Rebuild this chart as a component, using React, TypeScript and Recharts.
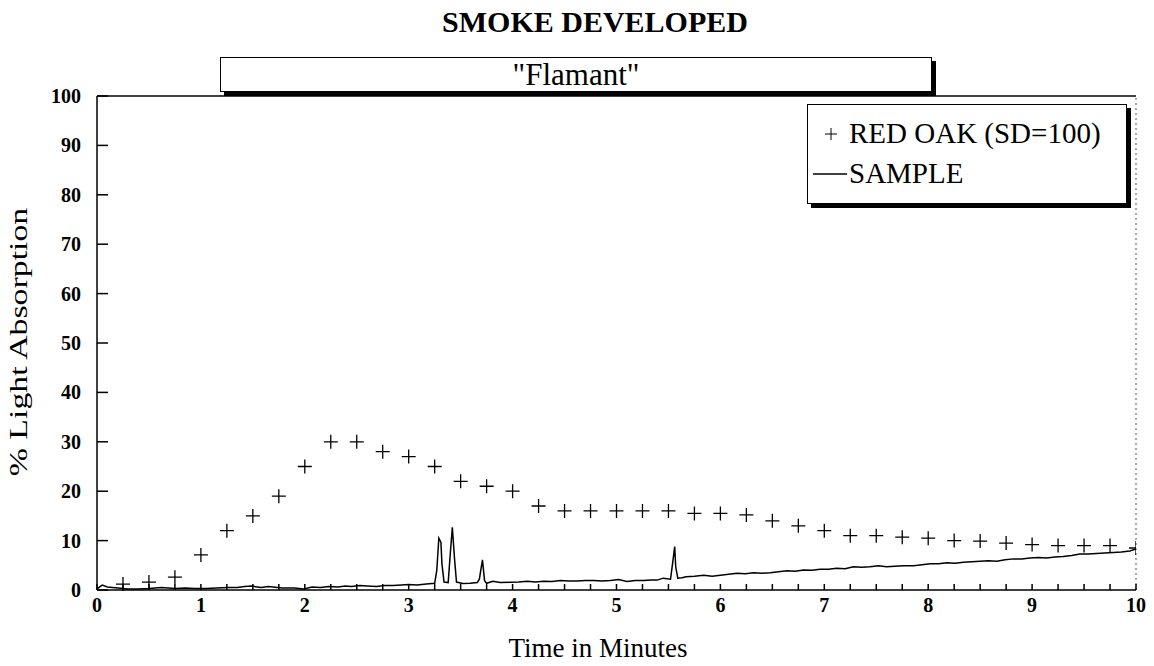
import React from 'react'
import {
  ComposedChart,
  Line,
  Scatter,
  XAxis,
  YAxis,
  ReferenceLine,
  Legend,
} from 'recharts'

// RED OAK reference points (every quarter minute)
const redOakTime = [
  0.25, 0.5, 0.75, 1, 1.25, 1.5, 1.75, 2, 2.25, 2.5, 2.75, 3, 3.25, 3.5, 3.75, 4,
  4.25, 4.5, 4.75, 5, 5.25, 5.5, 5.75, 6, 6.25, 6.5, 6.75, 7, 7.25, 7.5, 7.75, 8,
  8.25, 8.5, 8.75, 9, 9.25, 9.5, 9.75, 10,
]
const redOakValue = [
  1.2, 1.6, 2.6, 7.1, 12, 15, 19, 25, 30, 30, 28, 27, 25, 22, 21, 20,
  17, 16, 16, 16, 16, 16, 15.5, 15.5, 15.2, 14, 13, 12, 11, 11, 10.7, 10.5,
  10, 9.9, 9.5, 9.2, 9, 9, 9, 8.5,
]

// SAMPLE trace
const sampleTime = [
  0, 0.05, 0.1, 0.2, 0.3, 0.4, 0.5, 0.62, 0.75, 0.85, 0.94, 1.05, 1.15, 1.26, 1.35,
  1.42, 1.49, 1.58, 1.65, 1.78, 1.9, 1.99, 2.07, 2.15, 2.23, 2.32, 2.39, 2.45, 2.53,
  2.6, 2.69, 2.77, 2.85, 2.93, 3, 3.08, 3.17, 3.25, 3.27, 3.29, 3.31, 3.32, 3.34,
  3.38, 3.4, 3.42, 3.44, 3.46, 3.52, 3.59, 3.66, 3.68, 3.71, 3.73, 3.75, 3.81, 3.88,
  3.98, 4.06, 4.14, 4.22, 4.3, 4.38, 4.46, 4.54, 4.62, 4.7, 4.78, 4.86, 4.94, 5.02,
  5.1, 5.18, 5.26, 5.33, 5.39, 5.45, 5.52, 5.54, 5.56, 5.57, 5.59, 5.63, 5.67, 5.75,
  5.84, 5.92, 6, 6.08, 6.16, 6.24, 6.32, 6.4, 6.48, 6.56, 6.64, 6.72, 6.8, 6.88,
  6.96, 7.04, 7.12, 7.2, 7.28, 7.36, 7.44, 7.52, 7.6, 7.68, 7.76, 7.86, 7.94, 8.02,
  8.1, 8.18, 8.26, 8.34, 8.42, 8.5, 8.58, 8.66, 8.74, 8.82, 8.9, 8.98, 9.06, 9.14,
  9.22, 9.3, 9.38, 9.46, 9.54, 9.62, 9.7, 9.78, 9.86, 9.94, 10,
]
const sampleValue = [
  0.2, 1.0, 0.6, 0.4, 0.2, 0.2, 0.3, 0.5, 0.3, 0.4, 0.3, 0.3, 0.4, 0.5, 0.5,
  0.7, 0.8, 0.5, 0.7, 0.4, 0.4, 0.2, 0.6, 0.5, 0.7, 0.6, 0.8, 0.7, 0.9,
  0.8, 0.7, 0.9, 0.9, 1.0, 1.1, 1.0, 1.2, 1.35, 3.9, 10.5, 9.7, 5.3, 1.6,
  1.5, 7.3, 12.7, 6.6, 1.6, 1.3, 1.35, 1.5, 2.2, 6.1, 1.9, 1.35, 1.75, 1.5,
  1.55, 1.6, 1.75, 1.6, 1.75, 1.7, 1.9, 1.8, 1.8, 1.9, 1.9, 1.8, 1.9, 2.1,
  1.7, 1.9, 1.9, 2.0, 2.0, 2.4, 2.2, 5.4, 8.8, 4.7, 2.4, 2.5, 2.7, 2.8,
  3.0, 2.8, 3.0, 3.2, 3.4, 3.3, 3.5, 3.4, 3.5, 3.7, 3.9, 3.8, 4.05, 4.0,
  4.2, 4.2, 4.4, 4.3, 4.7, 4.6, 4.7, 4.9, 4.7, 4.8, 4.9, 4.9, 5.1, 5.3,
  5.3, 5.5, 5.4, 5.6, 5.7, 5.8, 5.9, 5.8, 6.1, 6.3, 6.3, 6.5, 6.6, 6.5,
  6.7, 6.8, 7.0, 7.3, 7.3, 7.4, 7.5, 7.6, 7.7, 7.9, 8.3,
]

const xTicks = [
  0, 0.25, 0.5, 0.75, 1, 1.25, 1.5, 1.75, 2, 2.25, 2.5, 2.75, 3, 3.25, 3.5, 3.75, 4,
  4.25, 4.5, 4.75, 5, 5.25, 5.5, 5.75, 6, 6.25, 6.5, 6.75, 7, 7.25, 7.5, 7.75, 8,
  8.25, 8.5, 8.75, 9, 9.25, 9.5, 9.75, 10,
]
const yTicks = [0, 10, 20, 30, 40, 50, 60, 70, 80, 90, 100]

const redOakData = redOakTime.map((t, i) => ({ t, v: redOakValue[i] }))
const sampleData = sampleTime.map((t, i) => ({ t, v: sampleValue[i] }))

const FONT = '"Liberation Serif", "Times New Roman", serif'

const PlusShape = (props: any) => {
  const { cx, cy } = props
  if (cx == null || cy == null) return null
  return (
    <path
      d={`M${cx - 7},${cy}H${cx + 7}M${cx},${cy - 7}V${cy + 7}`}
      stroke="#000"
      strokeWidth={1.3}
      fill="none"
    />
  )
}

// tick mark pointing into the plot + label only on whole minutes
const XTick = (props: any) => {
  const { x, y, payload } = props
  const whole = Number.isInteger(payload.value)
  return (
    <g>
      <rect x={x - 0.75} y={y - 6} width={1.5} height={6} fill="#000" />
      {whole && (
        <text x={x} y={y + 22} textAnchor="middle" fontFamily={FONT} fontWeight="bold" fontSize={20} fill="#000">
          {payload.value}
        </text>
      )}
    </g>
  )
}

const YTick = (props: any) => {
  const { x, y, payload } = props
  return (
    <g>
      <rect x={x} y={y - 0.75} width={11} height={1.5} fill="#000" />
      <text x={x - 16} y={y + 7} textAnchor="end" fontFamily={FONT} fontWeight="bold" fontSize={20} fill="#000">
        {payload.value}
      </text>
    </g>
  )
}

const renderLegend = () => (
  <div
    style={{
      width: 320,
      height: 100,
      boxSizing: 'border-box',
      border: '1px solid #000',
      boxShadow: '4px 4px 0 #000',
      background: '#fff',
      fontFamily: FONT,
      fontSize: 29,
      color: '#000',
      position: 'relative',
    }}
  >
    <svg width={40} height={100} style={{ position: 'absolute', left: 0, top: 0 }}>
      <path d="M17,29H29M23,23V35" stroke="#000" strokeWidth={1} />
      <line x1={5} y1={69} x2={39} y2={69} stroke="#000" strokeWidth={1.5} />
    </svg>
    <div style={{ position: 'absolute', left: 41, top: 11, whiteSpace: 'nowrap', lineHeight: '34px' }}>RED OAK (SD=100)</div>
    <div style={{ position: 'absolute', left: 41, top: 51, whiteSpace: 'nowrap', lineHeight: '34px' }}>SAMPLE</div>
  </div>
)

export default function App() {
  return (
    <div style={{ position: 'absolute', left: 0, top: 0, width: 1154, height: 666, background: '#fff', fontFamily: FONT }}>
      <div style={{ position: 'absolute', left: 395, top: 5, width: 400, textAlign: 'center', fontSize: 30, fontWeight: 'bold', lineHeight: '34px' }}>
        SMOKE DEVELOPED
      </div>
      <div
        style={{
          position: 'absolute',
          left: 220,
          top: 57,
          width: 712,
          height: 35,
          boxSizing: 'border-box',
          border: '1px solid #000',
          boxShadow: '4px 4px 0 #000',
          textAlign: 'center',
          fontSize: 31,
          lineHeight: '33px',
          background: '#fff',
        }}
      >
        "Flamant"
      </div>
      <ComposedChart
        width={1154}
        height={666}
        margin={{ top: 96, right: 18, bottom: 46, left: 37 }}
        style={{ position: 'absolute', left: 0, top: 0 }}
      >
        <XAxis
          type="number"
          dataKey="t"
          domain={[0, 10]}
          ticks={xTicks}
          interval={0}
          allowDataOverflow
          height={30}
          tickSize={0}
          tickMargin={0}
          tickLine={false}
          tick={<XTick />}
          axisLine={{ stroke: '#000', strokeWidth: 1.5 }}
        />
        <YAxis
          type="number"
          dataKey="v"
          domain={[0, 100]}
          ticks={yTicks}
          interval={0}
          width={60}
          tickSize={0}
          tickMargin={0}
          tickLine={false}
          tick={<YTick />}
          axisLine={{ stroke: '#000', strokeWidth: 1.5 }}
        />
        <ReferenceLine y={100} stroke="#000" strokeWidth={1.5} />
        <ReferenceLine x={10} stroke="#555" strokeDasharray="2 3" />
        <Legend
          layout="horizontal"
          verticalAlign="middle"
          align="center"
          content={renderLegend}
          wrapperStyle={{ left: 807, top: 104, width: 324, height: 104 }}
        />
        <Line
          data={sampleData}
          dataKey="v"
          name="SAMPLE"
          type="linear"
          stroke="#000"
          strokeWidth={1.5}
          dot={false}
          isAnimationActive={false}
        />
        <Scatter
          data={redOakData}
          dataKey="v"
          name="RED OAK (SD=100)"
          shape={PlusShape}
          isAnimationActive={false}
        />
      </ComposedChart>
      <div style={{ position: 'absolute', left: 598, top: 648, transform: 'translate(-50%, -50%)', fontSize: 27, whiteSpace: 'nowrap' }}>
        Time in Minutes
      </div>
      <div
        style={{
          position: 'absolute',
          left: 19,
          top: 342,
          transform: 'translate(-50%, -50%) rotate(-90deg) scaleX(1.3)',
          fontSize: 26,
          whiteSpace: 'nowrap',
        }}
      >
        % Light Absorption
      </div>
    </div>
  )
}
